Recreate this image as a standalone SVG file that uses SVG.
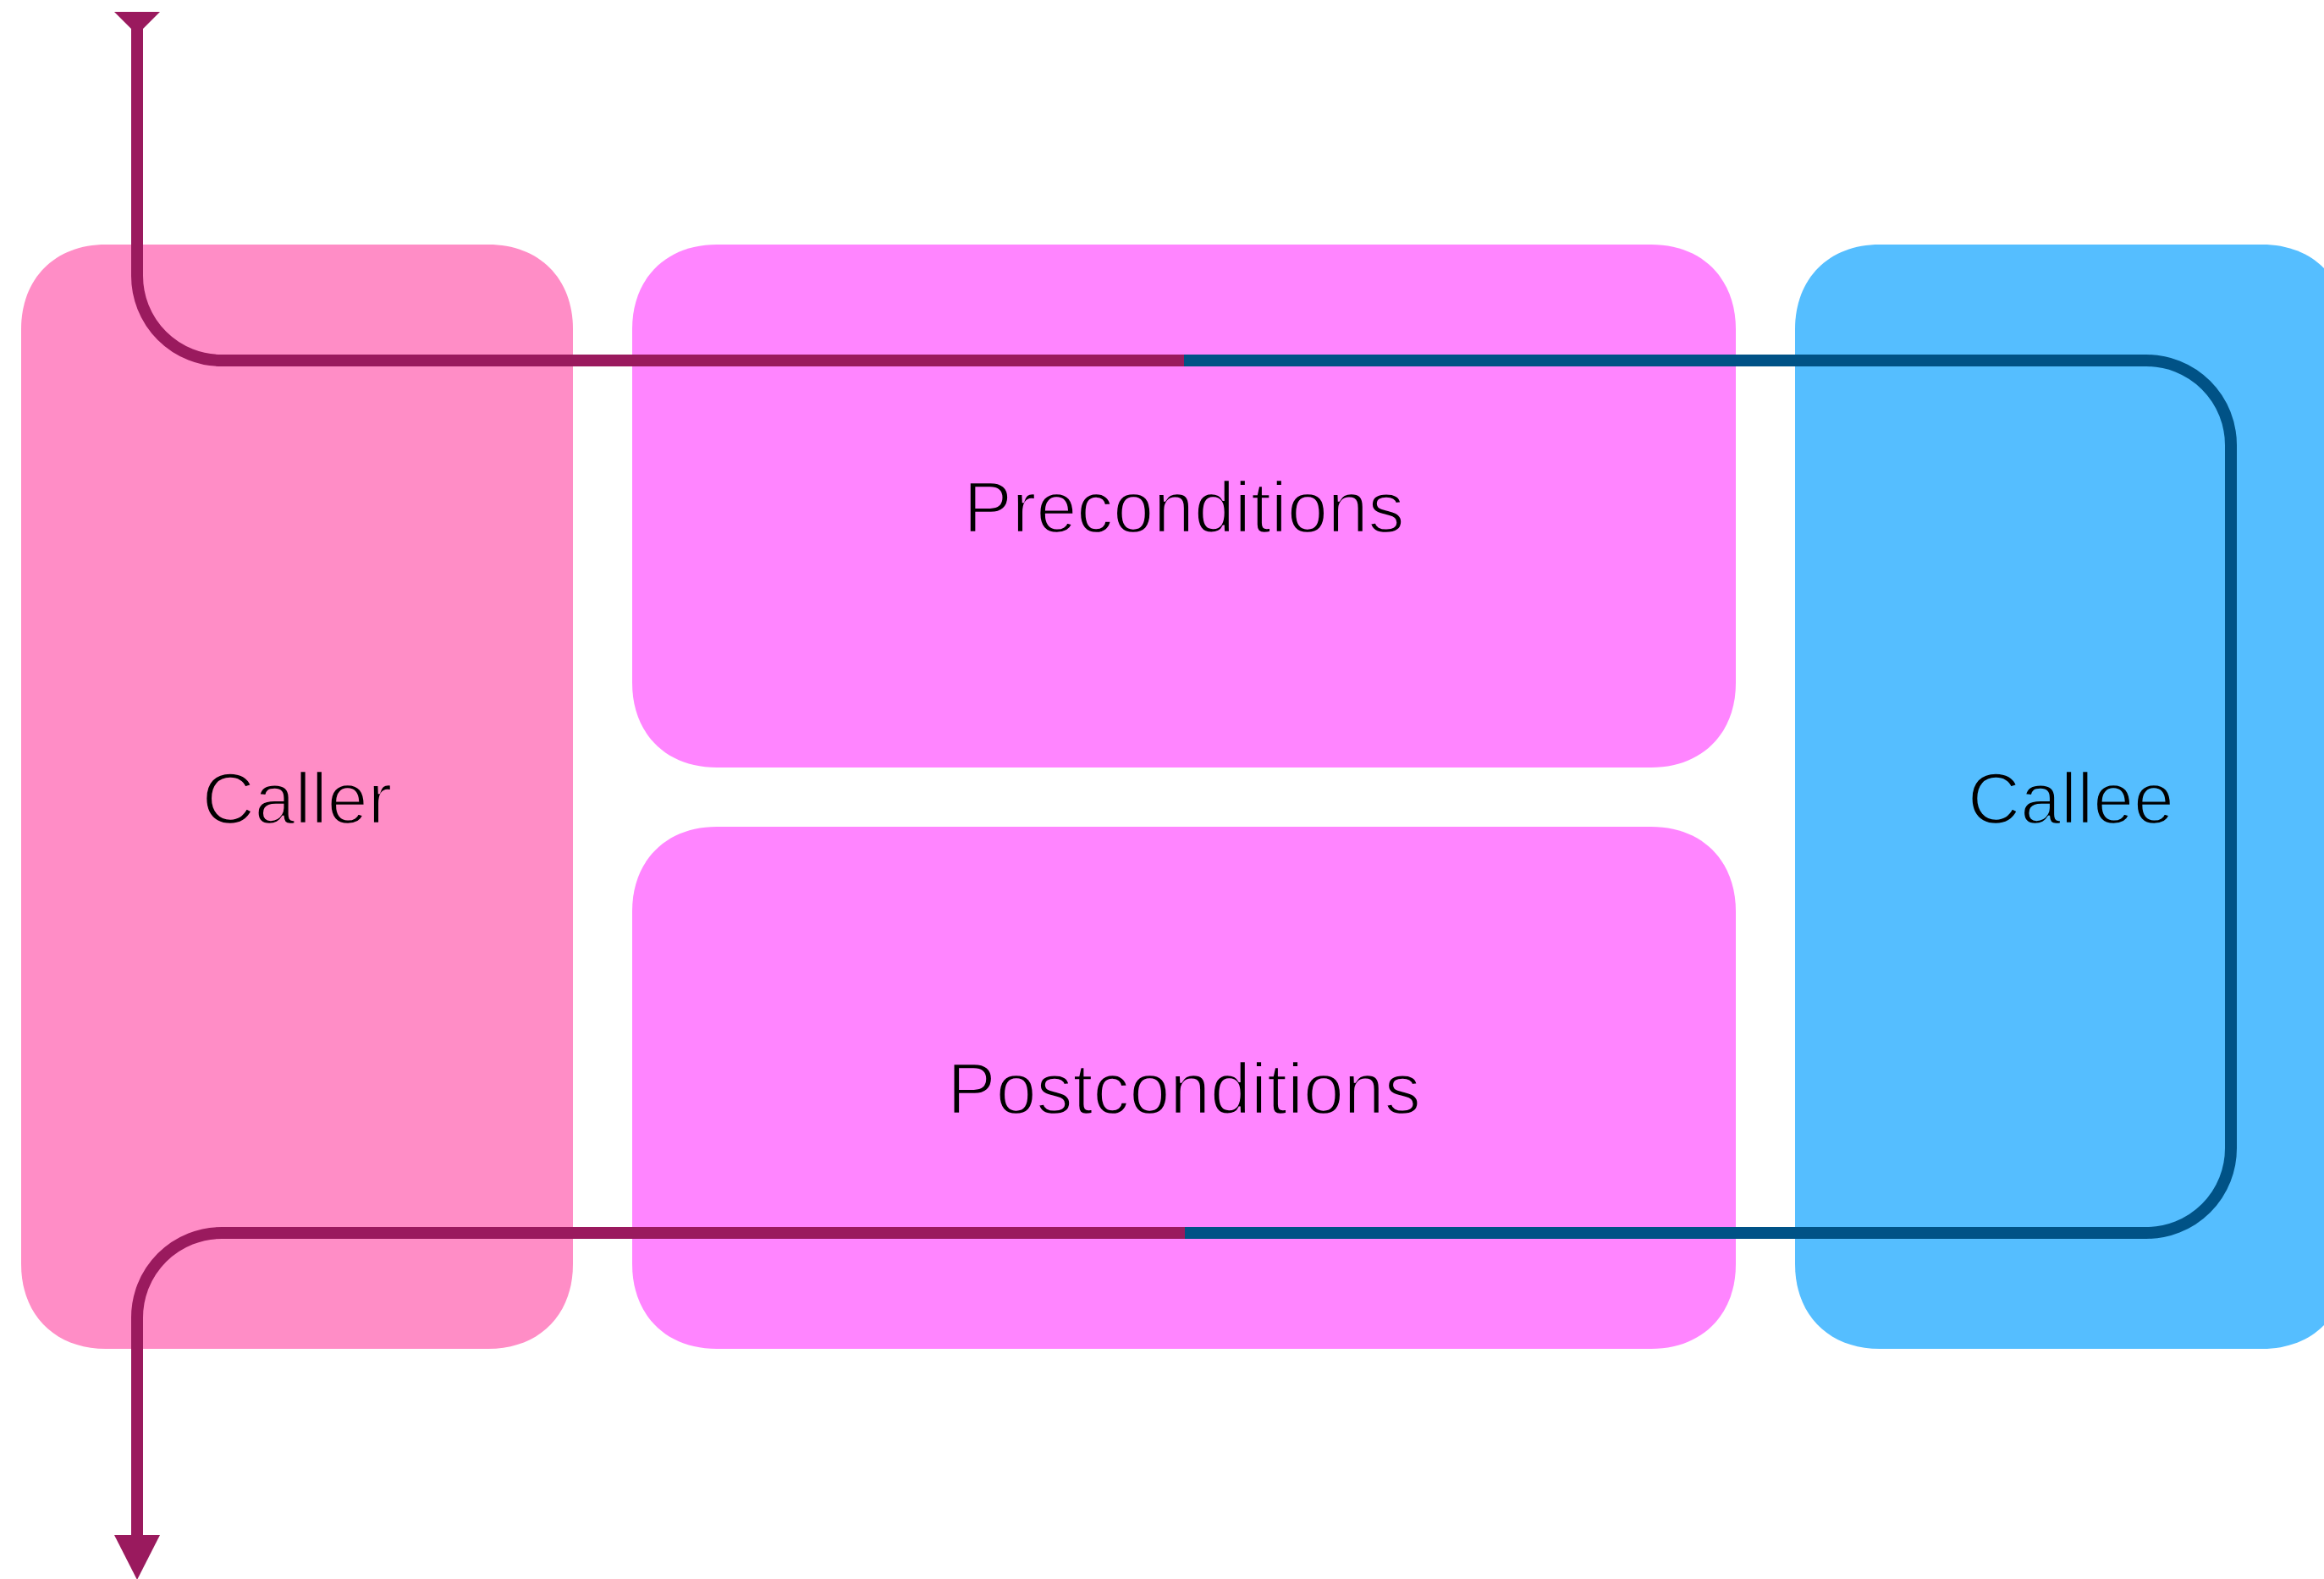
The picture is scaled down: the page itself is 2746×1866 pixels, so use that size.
<svg xmlns="http://www.w3.org/2000/svg" width="2746" height="1866" viewBox="0 0 2746 1866">
  <style>
    .label { font-family: "Liberation Sans", Arial, Helvetica, sans-serif; font-size: 86px; fill: #000000; text-anchor: middle; stroke-width: 2.4; }
    .caller { fill: #FF8DC6; }
    .contract { fill: #FF85FF; }
    .callee { fill: #55BEFF; }
    .on-caller { stroke: #FF8DC6; }
    .on-contract { stroke: #FF85FF; }
    .on-callee { stroke: #55BEFF; }
    .flow { fill: none; stroke-width: 14; stroke-linecap: butt; stroke-linejoin: round; }
    .caller-side { stroke: #9A1A5E; }
    .callee-side { stroke: #005286; }
  </style>
  <defs>
    <!-- open tail at the start of the call path -->
    <marker id="tail" markerUnits="userSpaceOnUse" markerWidth="20" markerHeight="54" viewBox="0 0 20 54" refX="20" refY="27" orient="auto">
      <path d="M0,0 L20,20 L20,34 L0,54 Z" fill="#9A1A5E"/>
    </marker>
    <!-- filled arrowhead at the return end -->
    <marker id="head" markerUnits="userSpaceOnUse" markerWidth="53" markerHeight="54" viewBox="0 0 53 54" refX="0" refY="27" orient="auto">
      <path d="M0,0 L53,27 L0,54 Z" fill="#9A1A5E"/>
    </marker>
  </defs>

  <rect width="2746" height="1866" fill="#FFFFFF"/>

  <!-- boxes use smooth corners: extent 100, control offset 40 -->
  <g id="caller">
    <path class="caller" d="M125,289 L577,289 C637,289 677,329 677,389 L677,1494 C677,1554 637,1594 577,1594 L125,1594 C65,1594 25,1554 25,1494 L25,389 C25,329 65,289 125,289 Z"/>
    <text class="label on-caller" x="351" y="973">Caller</text>
  </g>

  <g id="preconditions">
    <path class="contract" d="M847,289 L1951,289 C2011,289 2051,329 2051,389 L2051,807 C2051,867 2011,907 1951,907 L847,907 C787,907 747,867 747,807 L747,389 C747,329 787,289 847,289 Z"/>
    <text class="label on-contract" x="1399" y="629">Preconditions</text>
  </g>

  <g id="postconditions">
    <path class="contract" d="M847,977 L1951,977 C2011,977 2051,1017 2051,1077 L2051,1494 C2051,1554 2011,1594 1951,1594 L847,1594 C787,1594 747,1554 747,1494 L747,1077 C747,1017 787,977 847,977 Z"/>
    <text class="label on-contract" x="1399" y="1316">Postconditions</text>
  </g>

  <g id="callee">
    <path class="callee" d="M2221,289 L2673,289 C2733,289 2773,329 2773,389 L2773,1494 C2773,1554 2733,1594 2673,1594 L2221,1594 C2161,1594 2121,1554 2121,1494 L2121,389 C2121,329 2161,289 2221,289 Z"/>
    <text class="label on-callee" x="2447" y="973">Callee</text>
  </g>

  <g id="connectors">
    <!-- call: caller hands over through the preconditions -->
    <path class="flow caller-side" d="M162,34 L162,326 A100,100 0 0 0 262,426 L1400,426" marker-start="url(#tail)"/>
    <!-- callee runs and returns through the postconditions -->
    <path class="flow callee-side" d="M1399,426 L2536,426 A100,100 0 0 1 2636,526 L2636,1357 A100,100 0 0 1 2536,1457 L1399,1457"/>
    <!-- return: back to the caller -->
    <path class="flow caller-side" d="M1400,1457 L262,1457 A100,100 0 0 0 162,1557 L162,1814" marker-end="url(#head)"/>
  </g>
</svg>
